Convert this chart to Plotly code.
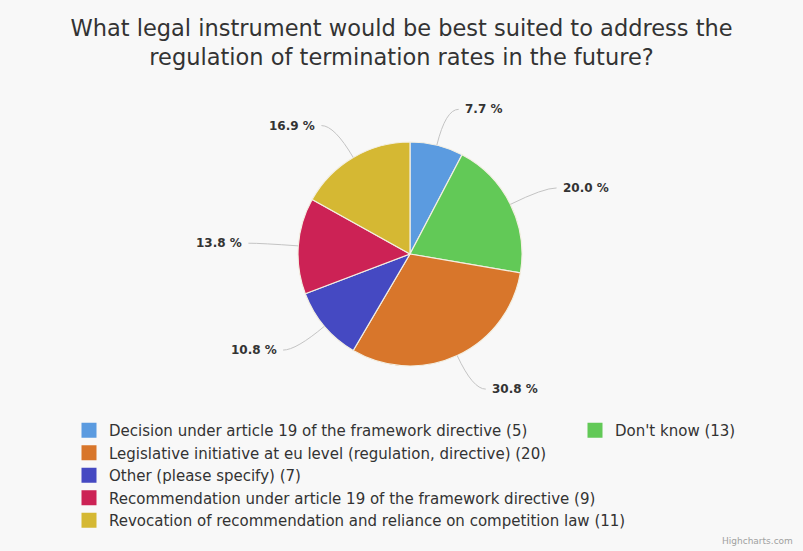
import math
import plotly.graph_objects as go

# ---- data ----
categories = [
    "Decision under article 19 of the framework directive",
    "Don't know",
    "Legislative initiative at eu level (regulation, directive)",
    "Other (please specify)",
    "Recommendation under article 19 of the framework directive",
    "Revocation of recommendation and reliance on competition law",
]
counts = [5, 13, 20, 7, 9, 11]
colors = ["#5b9be0", "#62c957", "#d8762b", "#4549c2", "#cc2255", "#d5b833"]

title_text = ("What legal instrument would be best suited to address the<br>"
              "regulation of termination rates in the future?")

# ---- geometry (pixels) ----
W, H = 803, 551
CX, CY, R = 410, 254, 112
LABEL_D = 37
GAP = 17

def px(x):
    return x / W

def py(y):
    return 1 - y / H

fig = go.Figure()
fig.add_trace(go.Pie(
    labels=categories, values=counts, sort=False, direction="clockwise",
    rotation=0,
    marker=dict(colors=colors, line=dict(color="#f3efe2", width=1.2)),
    textinfo="none", hoverinfo="label+value+percent", showlegend=False,
    domain=dict(x=[px(CX - R), px(CX + R)], y=[py(CY + R), py(CY - R)]),
))

# legend entries
for i, (cat, cnt) in enumerate(zip(categories, counts)):
    fig.add_trace(go.Scatter(
        x=[None], y=[None], mode="markers",
        marker=dict(symbol="square", size=15, color=colors[i]),
        name=f"{cat} ({cnt})",
        legend="legend2" if i == 1 else "legend",
        hoverinfo="skip",
    ))

# data labels with connectors
total = sum(counts)
annotations = []
shapes = []
cum = 0
for c in counts:
    mid = (cum + c / 2) / total * 2 * math.pi
    cum += c
    s, co = math.sin(mid), math.cos(mid)
    ex, ey = CX + R * s, CY - R * co
    ax, ay = CX + (R + LABEL_D) * s, CY - (R + LABEL_D) * co
    side = 1 if s >= 0 else -1
    tx = ax + side * GAP
    endx = ax + side * (GAP - 4)
    annotations.append(dict(
        x=px(tx), y=py(ay), xref="paper", yref="paper",
        xanchor="left" if side > 0 else "right", yanchor="middle",
        text=f"{100 * c / total:.1f} %", showarrow=False,
        font=dict(family="DejaVu Sans", size=12, color="#333333", weight="bold"),
    ))
    shapes.append(dict(
        type="path", xref="paper", yref="paper",
        path=f"M {px(ex)},{py(ey)} Q {px(ax)},{py(ay)} {px(endx)},{py(ay)}",
        line=dict(color="#c4c4c4", width=1),
    ))

annotations.append(dict(
    x=px(W - 8), y=py(541), xref="paper", yref="paper",
    xanchor="right", yanchor="middle", text="Highcharts.com", showarrow=False,
    font=dict(family="DejaVu Sans", size=9, color="#a0a0a0"),
))

legend_font = dict(family="DejaVu Sans", size=15, color="#333333")

fig.update_layout(
    width=W, height=H,
    margin=dict(l=0, r=0, t=0, b=0),
    paper_bgcolor="#f8f8f8", plot_bgcolor="rgba(0,0,0,0)",
    title=dict(text=title_text, x=0.5, xanchor="center", xref="paper",
               y=py(36), yref="container", yanchor="top",
               font=dict(family="DejaVu Sans", size=22.5, color="#333333")),
    xaxis=dict(visible=False), yaxis=dict(visible=False),
    legend=dict(x=px(69), y=py(414), xanchor="left", yanchor="top",
                orientation="v", bgcolor="rgba(0,0,0,0)", font=legend_font),
    legend2=dict(x=px(575), y=py(414), xanchor="left", yanchor="top",
                 orientation="v", bgcolor="rgba(0,0,0,0)", font=legend_font),
    annotations=annotations, shapes=shapes,
)

fig.write_html("out.html")
